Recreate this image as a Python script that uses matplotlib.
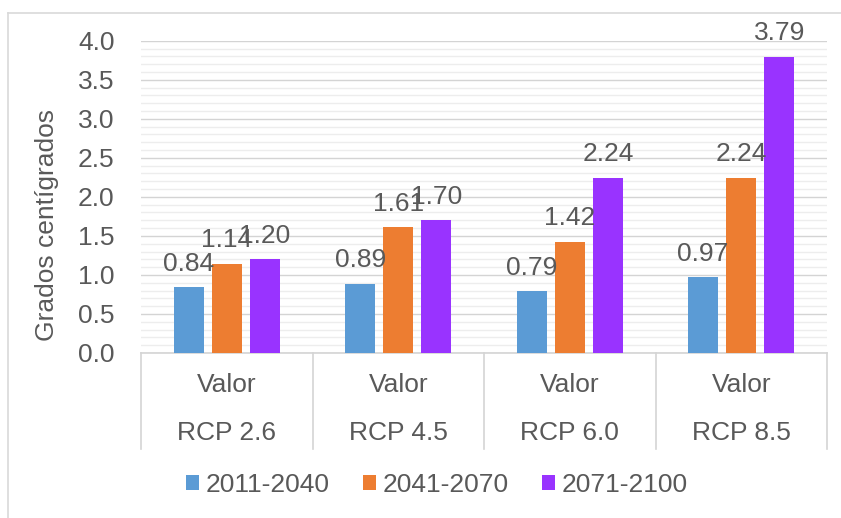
import matplotlib
matplotlib.use("Agg")
import matplotlib.pyplot as plt
from matplotlib.lines import Line2D
from matplotlib.patches import Patch
import matplotlib.transforms as mtransforms
import numpy as np

# Data
scenarios = ["RCP 2.6", "RCP 4.5", "RCP 6.0", "RCP 8.5"]
sub_label = "Valor"
periods = ["2011-2040", "2041-2070", "2071-2100"]
v_2011_2040 = [0.84, 0.89, 0.79, 0.97]
v_2041_2070 = [1.14, 1.61, 1.42, 2.24]
v_2071_2100 = [1.20, 1.70, 2.24, 3.79]
y_label = "Grados centígrados"

colors = ["#5B9BD5", "#ED7D31", "#9933FF"]
text_color = "#595959"
plt.rcParams["font.family"] = ["Liberation Sans", "DejaVu Sans"]
FS = 19

W, H = 841, 518
fig = plt.figure(figsize=(W / 100, H / 100), dpi=100)

# plot area in pixel terms
left, right, top, bottom = 141, 827, 40.7, 353
ax = fig.add_axes([left / W, (H - bottom) / H, (right - left) / W, (bottom - top) / H])

x = np.arange(len(scenarios))
series = [v_2011_2040, v_2041_2070, v_2071_2100]
offsets = [-0.222, 0.0, 0.222]
width = 0.175
for vals, off, col in zip(series, offsets, colors):
    bars = ax.bar(x + off, vals, width=width, color=col, zorder=3)
    for b, v in zip(bars, vals):
        ax.annotate(f"{v:.2f}", (b.get_x() + b.get_width() / 2, v),
                    xytext=(0, 12), textcoords="offset points",
                    ha="center", va="baseline", fontsize=FS, color=text_color,
                    zorder=4)

ax.set_xlim(-0.5, len(scenarios) - 0.5)
ax.set_ylim(0, 4.0)
ax.set_yticks(np.arange(0, 4.01, 0.5))
ax.set_yticklabels([f"{t:.1f}" for t in np.arange(0, 4.01, 0.5)])
ax.set_yticks(np.arange(0, 4.01, 0.1), minor=True)
ax.tick_params(axis="y", which="both", length=0, pad=19, labelsize=FS,
               labelcolor=text_color)
ax.set_xticks([])
ax.grid(axis="y", which="major", color="#D4D4D4", linewidth=1.0, zorder=0)
ax.grid(axis="y", which="minor", color="#EDEDED", linewidth=1.0, zorder=0)
for s in ["left", "right", "top"]:
    ax.spines[s].set_visible(False)
ax.spines["bottom"].set_color("#D4D4D4")
ax.spines["bottom"].set_linewidth(1.2)

# multi-level category axis
ah = bottom - top
trans = mtransforms.blended_transform_factory(ax.transData, ax.transAxes)
sep_bottom = -(449 - bottom) / ah
for b in np.arange(-0.5, len(scenarios), 1.0):
    ax.add_line(Line2D([b, b], [0, sep_bottom], transform=trans, color="#D4D4D4",
                       linewidth=1.2, clip_on=False))
for xi, name in zip(x, scenarios):
    ax.text(xi, -(385 - bottom) / ah, sub_label, transform=trans, ha="center",
            va="center", fontsize=FS, color=text_color)
    ax.text(xi, -(433 - bottom) / ah, name, transform=trans, ha="center",
            va="center", fontsize=FS, color=text_color)

fig.text(47 / W, (H - 225) / H, y_label, rotation=90, ha="center", va="center",
         fontsize=FS, color=text_color)

handles = [Patch(facecolor=c, edgecolor="none") for c in colors]
fig.legend(handles, periods, loc="center", bbox_to_anchor=(437 / W, (H - 485) / H),
           ncol=3, frameon=False, fontsize=FS, labelcolor=text_color,
           handlelength=0.48, handleheight=0.48, handletextpad=0.27,
           columnspacing=1.25, borderpad=0)

# chart frame (left and top edges)
fig.add_artist(Line2D([8 / W, 8 / W], [0, (H - 13) / H], transform=fig.transFigure,
                      color="#D9D9D9", linewidth=1.2))
fig.add_artist(Line2D([8 / W, 1], [(H - 13) / H, (H - 13) / H], transform=fig.transFigure,
                      color="#D9D9D9", linewidth=1.2))

fig.savefig("out.png", dpi=100)
